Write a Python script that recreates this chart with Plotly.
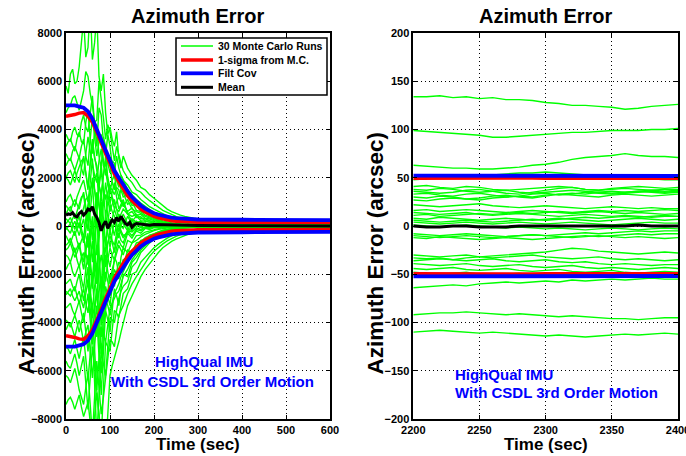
import plotly.graph_objects as go

# ---------------- data ----------------
T_LEFT = [0, 5, 10, 15, 20, 25, 30, 35, 40, 45, 50, 55, 60, 65, 70, 75, 80, 85, 90, 95, 100, 105, 110, 115, 120, 125,
          130, 140, 150, 160, 170, 180, 190, 200, 210, 220, 230, 240, 250, 260, 270, 280, 290, 300, 400, 500, 600]

MC_LEFT = [
    [5800, 5500, 6300, 6500, 5900, 6000, 6600, 7500, 8600, 7000, 7400, 9200, 6900, 7600, 8800, 6200, 5600, 6300, 4700, 3800, 4100, 3600, 3300, 3900, 2800, 2400,
     2900, 2400, 2100, 1900, 1600, 1500, 1300, 1150, 1000, 850, 700, 600, 520, 450, 400, 350, 320, 290, 180, 150, 134],
    [4700, 4900, 5000, 5300, 5400, 5100, 4800, 5200, 5600, 6400, 6200, 5500, 5000, 4300, 4400, 6000, 5300, 4500, 3600, 4200, 3900, 3200, 2700, 3300, 2900, 2600,
     2300, 2000, 1800, 1500, 1400, 1200, 1050, 900, 780, 650, 560, 470, 400, 340, 290, 250, 220, 190, 130, 110, 99],
    [3800, 3600, 3500, 3900, 4100, 3800, 3700, 4300, 4600, 4100, 3900, 4800, 5400, 4200, 3300, 4900, 4600, 3500, 2900, 3800, 3300, 2500, 2200, 2900, 2400, 2100,
     1900, 1700, 1400, 1300, 1100, 950, 800, 700, 600, 500, 420, 350, 290, 240, 200, 170, 140, 120, 80, 70, 63],
    [3300, 3500, 3600, 3300, 3100, 3600, 3900, 3500, 3400, 4300, 4800, 3600, 3000, 3900, 4200, 2900, 2400, 3700, 3300, 2600, 2200, 2700, 2600, 1900, 1600, 2100,
     1900, 1500, 1300, 1100, 950, 800, 680, 560, 470, 390, 320, 260, 210, 170, 130, 100, 80, 65, 55, 53, 52],
    [3000, 2800, 2700, 3100, 3300, 3000, 2800, 3300, 3600, 2900, 2500, 3600, 4500, 3700, 2900, 3500, 3800, 2700, 2100, 2900, 2600, 1800, 1500, 2100, 1900, 1500,
     1200, 1300, 850, 900, 600, 560, 400, 350, 260, 210, 160, 130, 100, 80, 65, 55, 48, 45, 43, 42, 41],
    [2500, 2700, 2800, 2500, 2300, 2600, 2900, 2400, 2100, 3000, 3700, 3100, 2600, 2100, 1800, 2700, 3200, 2500, 2300, 1700, 1400, 1900, 2100, 1500, 1200, 1500,
     1400, 900, 1000, 650, 600, 450, 380, 300, 230, 180, 140, 110, 85, 70, 58, 50, 45, 42, 40, 39, 38],
    [2000, 2200, 2300, 2000, 1800, 2200, 2500, 2700, 2800, 2100, 1600, 2600, 3400, 2800, 2500, 1700, 1200, 2100, 2700, 2000, 1600, 1500, 1300, 1600, 1500, 1100,
     800, 1100, 700, 600, 520, 400, 330, 260, 200, 160, 120, 95, 75, 62, 52, 46, 42, 40, 38, 37, 36],
    [1000, 1200, 1300, 1000, 800, 1200, 1500, 1700, 1900, 1500, 1000, 1800, 2800, 1500, 600, 1600, 2300, 1500, 1100, 1400, 1700, 1100, 700, 1000, 1200, 1000,
     900, 600, 750, 450, 480, 320, 290, 220, 170, 130, 100, 80, 62, 52, 45, 40, 37, 35, 34, 33, 33],
    [850, 700, 600, 900, 1100, 900, 700, 1100, 1400, 800, 300, 1300, 2000, 1500, 900, 1700, 2600, 1400, 400, 1000, 1500, 1200, 900, 700, 600, 800,
     1000, 500, 400, 480, 300, 300, 220, 180, 140, 110, 85, 66, 52, 44, 38, 34, 32, 31, 30, 30, 30],
    [500, 700, 800, 500, 300, 600, 900, 1200, 1300, 500, -200, 600, 1500, 1900, 2200, 1000, -100, 900, 1800, 1100, 600, 900, 1100, 700, 300, 500,
     700, 500, 200, 400, 220, 200, 150, 120, 95, 75, 60, 48, 40, 34, 30, 28, 28, 27, 27, 27, 27],
    [300, 200, 100, 300, 500, 200, -100, 400, 800, 1100, 1200, 300, -600, 500, 1400, 800, 300, -300, -800, 100, 900, 600, 400, 100, -200, 200,
     500, 100, 300, 150, 200, 90, 130, 70, 80, 50, 45, 32, 28, 22, 20, 18, 17, 16, 16, 16, 16],
    [100, 250, 350, 100, -150, 150, 400, -100, -500, 300, 900, 1500, 1800, 300, -1200, -200, 600, 1100, 1300, 400, -300, 300, 700, 400, 200, 0,
     -100, 400, 100, 200, 50, 130, 40, 80, 30, 50, 25, 28, 20, 18, 16, 15, 14, 14, 14, 14, 14],
    [-50, -200, -300, 0, 200, -100, -400, 0, 300, -400, -900, -300, 400, -900, -2000, -100, 1500, 300, -700, -100, 300, 0, -400, 100, 500, 300,
     100, -200, 250, -50, 150, 20, 90, 10, 50, 15, 30, 15, 20, 12, 12, 11, 11, 11, 11, 11, 11],
    [-150, 0, 100, -200, -400, -100, 150, -300, -700, -200, 500, -600, -1500, -400, 900, -1200, -2600, -800, 600, -300, -900, -300, 200, -200, -500, 0,
     300, -100, -200, 100, -50, 60, -30, 40, -10, 20, 5, 10, 8, 8, 8, 8, 8, 8, 8, 8, 8],
    [-400, -600, -700, -400, -200, -600, -900, -600, -400, -1100, -1600, -500, 200, -1300, -2400, -600, 1000, -900, -1700, -700, -200, -600, -800, -300, 100, -200,
     -400, -300, 50, -150, -50, -80, 20, -30, 0, 10, 0, 5, 5, 6, 6, 6, 6, 6, 6, 6, 6],
    [-800, -700, -500, -800, -1100, -900, -700, -1200, -1500, -800, -300, -1700, -2600, -1500, -800, -2300, -3400, -1600, -500, -1300, -1700, -1200, -1000, -500, -300, -600,
     -700, -200, -400, -150, -200, -80, -100, -40, -50, -20, -10, -5, 0, 2, 3, 4, 4, 4, 4, 4, 4],
    [-1200, -1300, -1500, -1200, -900, -1400, -1700, -1300, -1100, -1900, -2500, -1400, -600, -2000, -3000, -1800, -1200, -1900, -2300, -1400, -900, -1200, -1400, -900, -600, -800,
     -900, -300, -500, -200, -300, -100, -150, -70, -60, -40, -20, -10, -5, -2, 0, 1, 1, 1, 1, 1, 1],
    [-1800, -1600, -1500, -1900, -2100, -1800, -1600, -2200, -2600, -1800, -1200, -2600, -3500, -2500, -1900, -3100, -4100, -2500, -1200, -1900, -2400, -1800, -1500, -1200, -800, -1000,
     -1200, -600, -700, -400, -380, -250, -200, -140, -100, -70, -50, -35, -25, -18, -14, -12, -11, -10, -10, -10, -10],
    [-2400, -2300, -2200, -2500, -2700, -2300, -2000, -2600, -3100, -2500, -1700, -2900, -3800, -3300, -2600, -3700, -4600, -3100, -1900, -2300, -2900, -2200, -1300, -1500, -2000, -1300,
     -900, -1100, -700, -600, -450, -350, -260, -190, -140, -100, -70, -50, -35, -25, -18, -15, -13, -12, -12, -12, -12],
    [-2700, -2800, -2900, -2700, -2500, -2900, -3200, -2900, -2600, -3200, -3600, -2800, -2100, -3500, -4600, -3800, -2800, -3200, -3500, -2700, -2000, -2300, -2500, -1900, -1500, -1600,
     -1700, -1000, -1100, -700, -650, -480, -400, -300, -220, -170, -130, -100, -75, -55, -45, -38, -33, -31, -30, -30, -30],
    [-2850, -2700, -2600, -2900, -3100, -2900, -2700, -3100, -3400, -2800, -2300, -3400, -4400, -3600, -2700, -4100, -5300, -3800, -2500, -2900, -3300, -2500, -1800, -2000, -2200, -1700,
     -1400, -1300, -1000, -850, -600, -550, -380, -330, -240, -190, -140, -110, -80, -60, -48, -40, -35, -34, -33, -33, -33],
    [-3400, -3300, -3200, -3500, -3700, -3400, -3100, -3600, -4000, -3400, -2800, -3900, -4900, -4100, -3300, -4800, -6100, -4500, -3000, -3300, -3700, -3200, -2800, -2600, -2400, -2100,
     -1900, -1500, -1200, -1000, -750, -620, -480, -380, -290, -220, -160, -120, -90, -68, -54, -45, -40, -38, -37, -36, -36],
    [-3900, -4000, -4200, -3900, -3700, -4000, -4400, -4000, -3600, -4400, -5200, -4300, -3400, -5100, -6800, -5500, -4200, -4500, -4800, -4100, -3400, -3200, -3000, -2800, -2700, -2400,
     -2100, -1800, -1400, -1150, -900, -720, -560, -450, -340, -260, -190, -140, -105, -80, -62, -50, -44, -41, -40, -39, -39],
    [-4300, -4100, -4000, -4300, -4600, -4200, -3900, -4300, -4800, -4400, -4100, -5200, -6300, -5000, -3800, -5400, -7000, -5200, -3500, -3900, -4400, -3500, -2600, -2900, -3300, -2600,
     -2000, -2100, -1500, -1300, -1000, -800, -620, -500, -380, -290, -210, -160, -120, -90, -70, -58, -50, -47, -45, -44, -44],
    [-5000, -5100, -5300, -5000, -4700, -5100, -5500, -5000, -4600, -5500, -6400, -5300, -4300, -6500, -8800, -7000, -5200, -5700, -6200, -5000, -3800, -3900, -4000, -3500, -3000, -2700,
     -2500, -2300, -1700, -1500, -1100, -900, -700, -550, -420, -320, -240, -180, -135, -100, -78, -63, -55, -51, -49, -48, -48],
    [-5600, -5800, -5900, -5600, -5300, -5700, -6200, -5800, -5400, -6500, -7600, -6300, -5000, -5800, -6700, -7800, -8900, -6800, -4800, -5000, -5200, -4300, -3500, -3600, -3800, -3300,
     -2800, -2600, -2000, -1900, -1500, -1300, -1100, -900, -750, -620, -500, -410, -340, -280, -230, -190, -160, -130, -85, -70, -64],
    [-6200, -6300, -6500, -6200, -5900, -6300, -6800, -7100, -7400, -6700, -6100, -7400, -8700, -7100, -5600, -6700, -7800, -7100, -6400, -5500, -4700, -4800, -5000, -4300, -3700, -3500,
     -3300, -2800, -2400, -2100, -1800, -1500, -1250, -1050, -880, -740, -620, -520, -430, -360, -300, -250, -210, -180, -120, -100, -92],
    [-7400, -7200, -7100, -7300, -7600, -7300, -7000, -7500, -7900, -7600, -7300, -8100, -8900, -7900, -6900, -7800, -8800, -9200, -9500, -7800, -6200, -5800, -5500, -5100, -4800, -4400,
     -4000, -3300, -2900, -2500, -2100, -1800, -1550, -1300, -1100, -900, -760, -640, -540, -460, -390, -330, -280, -240, -150, -120, -110],
    [2000, 1900, 1700, 2000, 2300, 2000, 1800, 2400, 2900, 2200, 1500, 2600, 3600, 2900, 2200, 1700, 1300, 2100, 2900, 1900, 900, 1400, 1800, 1200, 700, 900,
     1100, 500, 600, 350, 380, 220, 210, 140, 110, 80, 60, 45, 36, 30, 26, 24, 23, 22, 22, 22, 22],
    [-1000, -900, -700, -1000, -1300, -1100, -800, -1300, -1800, -1100, -400, -1400, -2300, -900, 400, -1200, -2900, -1900, -900, -700, -400, -700, -1100, -600, -100, -300,
     -500, -200, -250, -80, -150, -30, -70, -20, -30, -15, -12, -10, -9, -8, -8, -8, -8, -8, -8, -8, -8],
]

T_SIGMA_LEFT = [0, 10, 20, 30, 40, 50, 60, 70, 80, 90, 100, 110, 120, 130, 140, 150, 160, 170, 180,
                190, 200, 210, 220, 230, 240, 250, 260, 270, 280, 290, 300, 400, 500, 600]
SIGMA_MC_LEFT = [4550, 4580, 4620, 4680, 4700, 4550, 4300, 3900, 3400, 3000, 2600, 2150, 1850, 1550, 1250, 1050, 850, 700, 580,
                 480, 400, 340, 290, 250, 220, 200, 185, 175, 170, 165, 160, 155, 150, 150]
FILT_COV_LEFT = [5000, 5000, 5000, 4950, 4900, 4750, 4450, 4000, 3550, 3100, 2700, 2300, 2000, 1700, 1450, 1200, 1000, 850, 720,
                 620, 530, 470, 420, 380, 350, 330, 310, 295, 285, 275, 270, 260, 250, 245]

T_MEAN_LEFT = [0, 5, 10, 15, 20, 25, 30, 35, 40, 45, 50, 55, 60, 65, 70, 75, 80, 85, 90, 95, 100, 105, 110, 115, 120, 125,
               130, 135, 140, 145, 150, 155, 160, 170, 180, 190, 200, 220, 240, 260, 280, 300, 400, 500, 600]
MEAN_LEFT = [450, 500, 480, 550, 420, 380, 520, 600, 450, 550, 700, 650, 800, 500, 350, 150, -200, 50, 200, -100, 100, 250,
             150, 350, 200, 400, 250, 100, 50, 150, -50, 50, 100, 80, 60, 30, 60, 50, 30, 40, 20, 20, 10, 5, 0]

T_RIGHT = [2200, 2210, 2220, 2230, 2240, 2250, 2260, 2270, 2280, 2290, 2300, 2310, 2320, 2330, 2340, 2350, 2360, 2370,
           2380, 2390, 2400]

MC_RIGHT = [
    [134, 134, 135, 133, 134, 132, 133, 131, 131, 130, 128, 127, 125, 125, 124, 123, 121, 122, 124, 125, 126],
    [99, 98, 97, 96, 95, 94, 92, 92, 93, 94, 95, 96, 97, 97, 98, 99, 99, 99, 100, 100, 101],
    [63, 62, 61, 60, 60, 59, 59, 60, 61, 63, 64, 66, 69, 71, 72, 73, 75, 73, 72, 72, 71],
    [48, 49, 50, 51, 52, 53, 53, 54, 55, 55, 56, 55, 54, 53, 52, 51, 50, 49, 49, 48, 48],
    [41, 42, 40, 39, 41, 40, 38, 37, 38, 39, 40, 41, 40, 38, 37, 38, 39, 38, 37, 38, 38],
    [38, 37, 39, 38, 36, 35, 36, 37, 35, 34, 35, 36, 37, 36, 35, 34, 35, 36, 35, 34, 35],
    [36, 35, 34, 35, 37, 38, 36, 34, 33, 35, 37, 39, 40, 38, 37, 39, 40, 41, 40, 39, 40],
    [33, 34, 32, 31, 33, 34, 32, 30, 31, 33, 34, 32, 33, 35, 34, 33, 34, 35, 36, 35, 36],
    [30, 29, 31, 30, 28, 29, 31, 32, 30, 29, 31, 33, 32, 31, 30, 32, 33, 32, 31, 32, 33],
    [27, 26, 28, 29, 28, 27, 29, 30, 31, 30, 32, 33, 34, 33, 35, 36, 35, 36, 37, 36, 37],
    [22, 21, 20, 21, 22, 23, 21, 20, 19, 20, 21, 20, 19, 18, 19, 20, 19, 18, 19, 18, 18],
    [16, 17, 15, 16, 17, 16, 15, 14, 15, 16, 15, 14, 13, 14, 15, 14, 13, 14, 13, 12, 13],
    [14, 13, 12, 13, 14, 12, 11, 12, 13, 12, 11, 10, 11, 12, 11, 10, 11, 10, 9, 10, 10],
    [11, 12, 10, 11, 12, 13, 12, 13, 14, 13, 14, 15, 14, 15, 16, 15, 16, 15, 16, 17, 16],
    [8, 7, 9, 8, 7, 6, 7, 8, 7, 6, 7, 8, 7, 6, 5, 6, 7, 8, 7, 6, 7],
    [6, 5, 4, 5, 6, 5, 4, 5, 6, 7, 6, 7, 8, 9, 8, 9, 10, 9, 10, 11, 10],
    [4, 3, 2, 3, 4, 3, 2, 3, 4, 3, 2, 3, 4, 3, 2, 1, 2, 3, 4, 3, 3],
    [1, 0, -1, 0, 1, 0, -1, -2, -1, -2, -3, -2, -3, -4, -3, -2, -3, -4, -3, -2, -3],
    [-8, -9, -10, -9, -8, -9, -10, -11, -10, -9, -10, -11, -12, -11, -10, -11, -12, -11, -12, -13, -12],
    [-10, -11, -12, -11, -10, -11, -12, -11, -10, -9, -10, -9, -8, -7, -8, -7, -6, -5, -6, -5, -5],
    [-12, -13, -11, -12, -13, -14, -13, -12, -13, -14, -13, -12, -11, -10, -11, -10, -9, -8, -9, -8, -8],
    [-30, -31, -32, -31, -30, -32, -33, -32, -31, -30, -32, -33, -34, -33, -32, -34, -35, -34, -35, -36, -35],
    [-33, -34, -33, -35, -36, -35, -34, -36, -37, -36, -35, -37, -38, -37, -39, -40, -39, -40, -41, -40, -40],
    [-36, -35, -34, -35, -33, -32, -31, -30, -29, -28, -27, -25, -23, -24, -26, -27, -28, -29, -28, -27, -28],
    [-39, -40, -41, -40, -39, -41, -42, -41, -40, -42, -43, -42, -41, -43, -44, -43, -44, -45, -44, -43, -44],
    [-44, -45, -44, -43, -45, -46, -45, -44, -46, -47, -46, -45, -47, -48, -47, -46, -48, -49, -48, -47, -48],
    [-48, -49, -50, -49, -48, -50, -51, -50, -49, -51, -52, -51, -50, -52, -53, -52, -51, -52, -53, -52, -52],
    [-64, -63, -62, -61, -62, -60, -59, -58, -59, -58, -57, -58, -56, -57, -56, -55, -56, -55, -54, -55, -55],
    [-92, -91, -90, -90, -89, -90, -91, -92, -91, -92, -93, -94, -93, -94, -95, -96, -96, -97, -96, -95, -95],
    [-110, -109, -108, -109, -110, -111, -110, -111, -112, -113, -114, -113, -114, -115, -114, -113, -112, -113, -112, -111, -112],
]

SIGMA_MC_RIGHT = [49.5, 49.6, 49.4, 49.5, 49.7, 49.6, 49.5, 49.4, 49.6, 49.7, 49.5, 49.6, 49.4, 49.5, 49.6, 49.5,
                  49.7, 49.6, 49.5, 49.6, 49.5]
FILT_COV_RIGHT = [52.2, 52.2, 52.2, 52.1, 52.1, 52.1, 52.1, 52.0, 52.0, 52.0, 52.0, 52.0, 51.9, 51.9, 51.9, 51.9,
                  51.9, 51.8, 51.8, 51.8, 51.8]
MEAN_RIGHT = [0, -1, -1, 0, 0, -1, -1, -1, 0, 0, 0, 0, 0, 0, 0, 0, 0, 1, 0, 0, 0]

LEGEND_LABELS = ["30 Monte Carlo Runs", "1-sigma from M.C.", "Filt Cov", "Mean"]
TITLE = "Azimuth Error"
XLABEL = "Time (sec)"
YLABEL = "Azimuth Error (arcsec)"
NOTE_1 = "HighQual IMU"
NOTE_2 = "With CSDL 3rd Order Motion"

# ---------------- styling ----------------
GREEN = "rgb(0,255,0)"
RED = "rgb(255,0,0)"
BLUE = "rgb(0,0,255)"
BLACK = "rgb(0,0,0)"
FONT = "Liberation Sans, Arial, Helvetica, sans-serif"

W, H = 686, 456
PLOT_L, PLOT_R, PLOT_T, PLOT_B = 66, 678, 33, 419
ML, MT, MR, MB = PLOT_L, PLOT_T, W - PLOT_R, H - PLOT_B
PW, PH = PLOT_R - PLOT_L, PLOT_B - PLOT_T


def px(xp):
    return (xp - PLOT_L) / PW


def py(yp):
    return 1 - (yp - PLOT_T) / PH


fig = go.Figure()


def add_panel(xa, ya, t, runs, t_sig, sig, cov, t_mean, mean):
    for r in runs:
        fig.add_trace(go.Scatter(x=t, y=r, mode="lines", xaxis=xa, yaxis=ya,
                                 line=dict(color=GREEN, width=1.4), showlegend=False,
                                 name=LEGEND_LABELS[0], hoverinfo="skip"))
    for s in (1, -1):
        fig.add_trace(go.Scatter(x=t_sig, y=[s * v for v in sig], mode="lines", xaxis=xa, yaxis=ya,
                                 line=dict(color=RED, width=3.5), showlegend=False,
                                 name=LEGEND_LABELS[1], hoverinfo="skip"))
    for s in (1, -1):
        fig.add_trace(go.Scatter(x=t_sig, y=[s * v for v in cov], mode="lines", xaxis=xa, yaxis=ya,
                                 line=dict(color=BLUE, width=3.8), showlegend=False,
                                 name=LEGEND_LABELS[2], hoverinfo="skip"))
    fig.add_trace(go.Scatter(x=t_mean, y=mean, mode="lines", xaxis=xa, yaxis=ya,
                             line=dict(color=BLACK, width=3), showlegend=False,
                             name=LEGEND_LABELS[3], hoverinfo="skip"))


add_panel("x", "y", T_LEFT, MC_LEFT, T_SIGMA_LEFT, SIGMA_MC_LEFT, FILT_COV_LEFT, T_MEAN_LEFT, MEAN_LEFT)
add_panel("x2", "y2", T_RIGHT, MC_RIGHT, T_RIGHT, SIGMA_MC_RIGHT, FILT_COV_RIGHT, T_RIGHT, MEAN_RIGHT)

tickfont = dict(family=FONT, size=11, color="black", weight="bold")
common = dict(showline=True, linecolor="black", linewidth=1.5, mirror="ticks",
              ticks="inside", ticklen=4, tickcolor="black", tickwidth=1,
              showgrid=True, gridcolor="black", gridwidth=1, griddash="1px,3px",
              zeroline=False, tickfont=tickfont, ticklabeloverflow="allow")

dom_left = [0, px(330)]
dom_right = [px(413.3), 1]

fig.update_layout(
    width=W, height=H, autosize=False,
    margin=dict(l=ML, r=MR, t=MT, b=MB, autoexpand=False),
    paper_bgcolor="white", plot_bgcolor="white",
    showlegend=False, hovermode=False,
    xaxis=dict(domain=dom_left, range=[0, 600], tickmode="array",
               tickvals=[0, 100, 200, 300, 400, 500, 600], anchor="y", **common),
    yaxis=dict(domain=[0, 1], range=[-8000, 8000], tickmode="array",
               tickvals=[-8000, -6000, -4000, -2000, 0, 2000, 4000, 6000, 8000], anchor="x", **common),
    xaxis2=dict(domain=dom_right, range=[2200, 2400], tickmode="array",
                tickvals=[2200, 2250, 2300, 2350, 2400], anchor="y2", **common),
    yaxis2=dict(domain=[0, 1], range=[-200, 200], tickmode="array",
                tickvals=[-200, -150, -100, -50, 0, 50, 100, 150, 200], anchor="x2", **common),
)

ann = []


def bold(size, color="black"):
    return dict(family=FONT, size=size, color=color, weight="bold")


for cx in (198, 545.7):
    ann.append(dict(text=TITLE, x=px(cx), y=py(15.5), xref="paper", yref="paper",
                    xanchor="center", yanchor="middle", showarrow=False, font=bold(20)))
    ann.append(dict(text=XLABEL, x=px(cx), y=py(444), xref="paper", yref="paper",
                    xanchor="center", yanchor="middle", showarrow=False, font=bold(17)))
for cx in (25.5, 374.5):
    ann.append(dict(text=YLABEL, x=px(cx), y=py(253), xref="paper", yref="paper", textangle=-90,
                    xanchor="center", yanchor="middle", showarrow=False, font=bold(22.5)))
ann.append(dict(text=NOTE_1, x=px(204), y=py(361.5), xref="paper", yref="paper",
                xanchor="center", yanchor="middle", showarrow=False, font=bold(15, BLUE)))
ann.append(dict(text=NOTE_2, x=px(212), y=py(381), xref="paper", yref="paper",
                xanchor="center", yanchor="middle", showarrow=False, font=bold(15, BLUE)))
ann.append(dict(text=NOTE_1, x=px(453), y=py(374), xref="paper", yref="paper",
                xanchor="left", yanchor="middle", showarrow=False, font=bold(15, BLUE)))
ann.append(dict(text=NOTE_2, x=px(453), y=py(392.7), xref="paper", yref="paper",
                xanchor="left", yanchor="middle", showarrow=False, font=bold(15, BLUE)))

# legend box, MATLAB style
shapes = [dict(type="rect", xref="paper", yref="paper", x0=px(176), x1=px(327), y0=py(95), y1=py(38),
               line=dict(color="black", width=1.5), fillcolor="white", layer="above")]
leg_styles = [(GREEN, 1.5), (RED, 3.5), (BLUE, 3.8), (BLACK, 3)]
for (col, wd), yy, lab in zip(leg_styles, (46, 60, 73.3, 87.3), LEGEND_LABELS):
    shapes.append(dict(type="line", xref="paper", yref="paper", x0=px(181), x1=px(213), y0=py(yy), y1=py(yy),
                       line=dict(color=col, width=wd), layer="above"))
    ann.append(dict(text=lab, x=px(216), y=py(yy), xref="paper", yref="paper",
                    xanchor="left", yanchor="middle", showarrow=False, font=bold(10.5)))

fig.update_layout(annotations=ann, shapes=shapes)
# remove the default page margin / scrollbars so the figure fills the 686x456 window exactly
fig.write_html(
    "out.html",
    config={"displayModeBar": False, "responsive": False},
    post_script=("document.body.style.margin='0px';"
                 "document.body.style.overflow='hidden';"
                 "document.documentElement.style.overflow='hidden';"),
)
